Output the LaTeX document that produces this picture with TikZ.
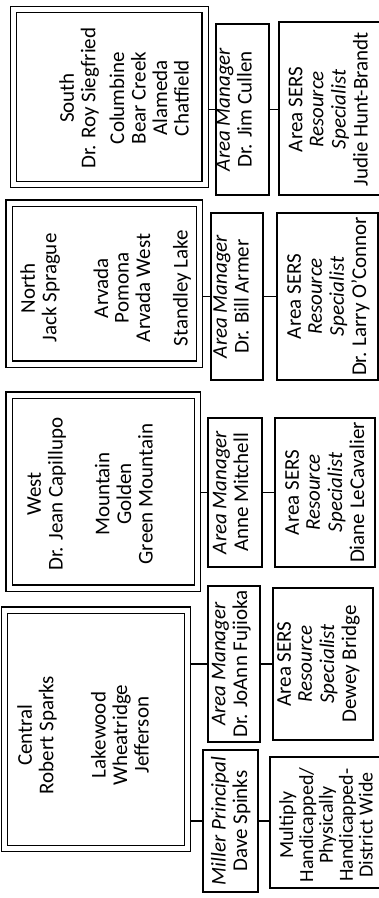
\documentclass[tikz,border=0pt]{standalone}
\usepackage{fontspec}
\setmainfont{Carlito}
\newcommand{\strA}{\rule[-6pt]{0pt}{15.5pt}}
\newcommand{\strB}{\rule[-6.5pt]{0pt}{16pt}}
\newcommand{\strC}{\rule[-5pt]{0pt}{13.5pt}}
\begin{document}
\begin{tikzpicture}[x=1pt,y=-1pt,
  box/.style={draw, line width=1.1pt, inner sep=0pt, outer sep=0pt},
  dbox/.style={draw, double, double distance=5pt, line width=1.1pt, inner sep=0pt, outer sep=3.6pt},
  txt/.style={rotate=90, align=center, inner sep=0pt, font=\fontsize{21}{8}\selectfont},
  multxt/.style={txt, font=\fontsize{20}{8}\selectfont},
  link/.style={line width=1.1pt}]
\useasboundingbox (0,0) rectangle (379,898);
\clip (0,0) rectangle (379,898);

% double-framed region boxes
\node[dbox, minimum width=191.5pt, minimum height=175pt] (sbox) at (109.25,97) {};
\node[dbox, minimum width=190.5pt, minimum height=161pt] (nbox) at (104.25,283.5) {};
\node[dbox, minimum width=188.5pt, minimum height=193pt] (wbox) at (103.25,491.5) {};
\node[dbox, minimum width=183pt, minimum height=238.5pt] (cbox) at (96,729.25) {};

% area manager boxes
\node[box, minimum width=53pt, minimum height=171pt] (sAM) at (242.5,109.5) {};
\node[box, minimum width=52pt, minimum height=167pt] (nAM) at (237,296.5) {};
\node[box, minimum width=54pt, minimum height=149pt] (wAM) at (235,492.5) {};
\node[box, minimum width=52pt, minimum height=156pt] (cAM) at (234,664) {};
\node[box, minimum width=55pt, minimum height=142pt] (mAM) at (230.5,821) {};

% SERS boxes
\node[box, minimum width=106pt, minimum height=173pt] (sSE) at (332,108.5) {};
\node[box, minimum width=101pt, minimum height=167pt] (nSE) at (327.5,296.5) {};
\node[box, minimum width=100pt, minimum height=149pt] (wSE) at (325,492.5) {};
\node[box, minimum width=100pt, minimum height=152pt] (cSE) at (323,664) {};
\node[box, minimum width=120pt, minimum height=131pt] (mSE) at (330,822.5) {};

% connectors
\foreach \r in {s,n,w,c} {
  \draw[link] (\r AM.west) -- (\r AM.west -| \r box.east);
  \draw[link] (\r AM.east) -- (\r AM.east -| \r SE.west);
}
\draw[link] (mAM.west) -- (mAM.west -| cbox.east);
\draw[link] (mAM.east) -- (mAM.east -| mSE.west);

% texts of region boxes
\node[txt] (stxt) at (127,98) {\strA South\\\strA Dr. Roy Siegfried\\[7pt]\strA Columbine\\\strA Bear Creek\\\strA Alameda\\\strA Chatfield};
\node[txt] (ntxt) at (107,288) {\strA North\\\strA Jack Sprague\\[30pt]\strA Arvada\\\strA Pomona\\\strA Arvada West\\[16pt]\strA Standley Lake};
\node[txt] (wtxt) at (93,494) {\strA West\\\strA Dr. Jean Capillupo\\[25.5pt]\strA Mountain\\\strA Golden\\\strA Green Mountain};
\node[txt] (ctxt) at (86,735) {\strA Central\\\strA Robert Sparks\\[30.5pt]\strA Lakewood\\\strA Wheatridge\\\strA Jefferson};

% area manager texts
\node[txt] (sAMt) at (237,109.5) {\strA\itshape Area Manager\\\strA Dr. Jim Cullen};
\node[txt] (nAMt) at (234,296.5) {\strA\itshape Area Manager\\\strA Dr. Bill Armer};
\node[txt] (wAMt) at (233.5,492.5) {\strA\itshape Area Manager\\\strA Anne Mitchell};
\node[txt] (cAMt) at (232.5,664) {\strA\itshape Area Manager\\\strA Dr. JoAnn Fujioka};
\node[txt] (mAMt) at (232,821) {\strA\itshape Miller Principal\\\strA Dave Spinks};

% SERS texts
\node[txt] (sSEt) at (331.5,109.5) {\strB Area SERS\\\strB\itshape Resource\\\strB\itshape Specialist\\\strB Judie Hunt-Brandt};
\node[txt] (nSEt) at (330,296.5) {\strB Area SERS\\\strB\itshape Resource\\\strB\itshape Specialist\\\strB Dr. Larry O'Connor};
\node[txt] (wSEt) at (328,492.5) {\strB Area SERS\\\strB\itshape Resource\\\strB\itshape Specialist\\\strB Diane LeCavalier};
\node[txt] (cSEt) at (320,664) {\strB Area SERS\\\strB\itshape Resource\\\strB\itshape Specialist\\\strB Dewey Bridge};
\node[multxt] (mSEt) at (328.5,825) {\strC Multiply\\\strC Handicapped/\\\strC Physically\\\strC Handicapped-\\\strC District Wide};
\end{tikzpicture}
\end{document}
